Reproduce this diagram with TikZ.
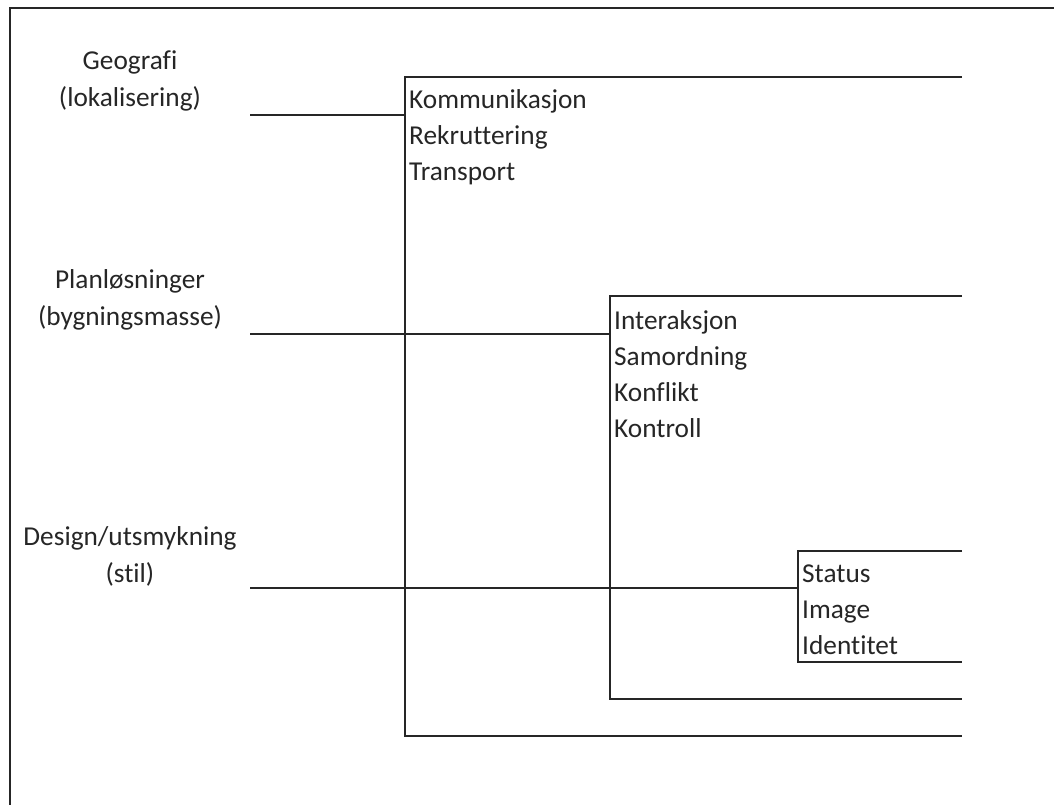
\documentclass[tikz,border=0pt]{standalone}
\usepackage{fontspec}
\setmainfont[Ligatures={NoCommon}]{Carlito}
\begin{document}
\begin{tikzpicture}[x=1pt,y=-1pt,
  ln/.style={line width=2pt, draw=black!85},
  lbl/.style={font=\fontsize{27.3}{37}\selectfont, align=center, inner sep=0pt, text=black!85},
  lst/.style={font=\fontsize{27.3}{36}\selectfont, align=left, inner sep=0pt, anchor=west, text=black!85}]
\useasboundingbox (0,0) rectangle (1054,805);
% frame (only top and left visible)
\coordinate (fbl) at (10,805);
\coordinate (ftl) at (10,8);
\coordinate (ftr) at (1054,8);
\draw[ln] (fbl) -- (ftl) -- (ftr);
% left labels
\node[lbl] (geo) at (130,81) {Geografi\\(lokalisering)};
\node[lbl] (plan) at (130,300) {Planløsninger\\(bygningsmasse)};
\node[lbl] (des) at (130,556) {Design/utsmykning\\(stil)};
% line start points
\coordinate (g) at (250,115);
\coordinate (p) at (250,334);
\coordinate (d) at (250,588);
% bracket 1
\coordinate (b1t) at (405,77);
\coordinate (b1b) at (405,736);
\coordinate (b1te) at (962,77);
\coordinate (b1be) at (962,736);
\coordinate (b1m) at (405,115);
% bracket 2
\coordinate (b2t) at (610,296);
\coordinate (b2b) at (610,699);
\coordinate (b2te) at (962,296);
\coordinate (b2be) at (962,699);
\coordinate (b2m) at (610,334);
% bracket 3
\coordinate (b3t) at (798,551);
\coordinate (b3b) at (798,662);
\coordinate (b3te) at (962,551);
\coordinate (b3be) at (962,662);
\coordinate (b3m) at (798,588);
\draw[ln] (b1te) -- (b1t) -- (b1b) -- (b1be);
\draw[ln] (b2te) -- (b2t) -- (b2b) -- (b2be);
\draw[ln] (b3te) -- (b3t) -- (b3b) -- (b3be);
\draw[ln] (g) -- (b1m);
\draw[ln] (p) -- (b2m);
\draw[ln] (d) -- (b3m);
% lists
\node[lst] (l1) at (409,137) {Kommunikasjon\\Rekruttering\\Transport};
\node[lst] (l2) at (614,374) {Interaksjon\\Samordning\\Konflikt\\Kontroll};
\node[lst] (l3) at (802,610) {Status\\Image\\Identitet};
\end{tikzpicture}
\end{document}
